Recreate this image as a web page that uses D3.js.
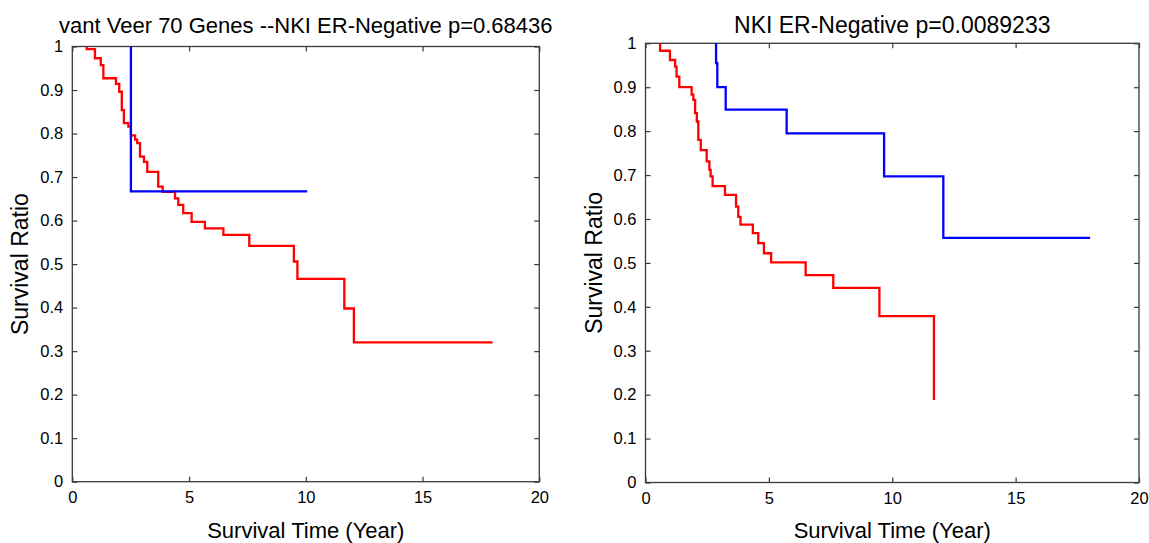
<!DOCTYPE html>
<html>
<head>
<meta charset="utf-8">
<script src="https://cdn.jsdelivr.net/npm/d3@7"></script>
<style>
  html, body { margin: 0; padding: 0; background: #fff; }
  svg { display: block; font-family: "Liberation Sans", Arial, sans-serif; }
</style>
</head>
<body>
<svg id="chart" width="1149" height="543"></svg>
<script>
// axis ticks shared by both panels
const xTicks = [0, 5, 10, 15, 20]
const yTicks = [0, 0.1, 0.2, 0.3, 0.4, 0.5, 0.6, 0.7, 0.8, 0.9, 1]
const yTickLabels = ['0', '0.1', '0.2', '0.3', '0.4', '0.5', '0.6', '0.7', '0.8', '0.9', '1']

const titles = ['vant Veer 70 Genes --NKI ER-Negative p=0.68436', 'NKI ER-Negative p=0.0089233']
const xLabel = 'Survival Time (Year)'
const yLabel = 'Survival Ratio'

// left panel, red group (start point, then each drop, then end of follow-up)
const leftRedTime = [0.62, 0.62, 0.97, 1.22, 1.33, 1.87, 2.01, 2.12, 2.21, 2.40, 2.51, 2.69, 2.78, 2.90, 3.07, 3.21,
  3.68, 3.87, 4.40, 4.54, 4.75, 5.11, 5.68, 6.47, 7.58, 9.49, 9.64, 11.65, 12.06, 18.0]
const leftRedSurv = [1, 0.994, 0.973, 0.957, 0.927, 0.914, 0.896, 0.854, 0.824, 0.816, 0.796, 0.786, 0.778, 0.747, 0.735, 0.712,
  0.678, 0.666, 0.651, 0.636, 0.617, 0.597, 0.582, 0.567, 0.542, 0.506, 0.466, 0.398, 0.320, 0.320]

// left panel, blue group
const leftBlueTime = [2.51, 2.51, 10.06]
const leftBlueSurv = [1, 0.667, 0.667]

// right panel, red group
const rightRedTime = [0.59, 0.59, 0.99, 1.20, 1.26, 1.37, 1.87, 1.94, 2.01, 2.08, 2.14, 2.24, 2.48, 2.59, 2.64, 2.72,
  3.22, 3.67, 3.76, 3.85, 4.35, 4.57, 4.80, 5.09, 6.49, 7.61, 9.48, 11.69]
const rightRedSurv = [1, 0.983, 0.962, 0.947, 0.924, 0.900, 0.883, 0.871, 0.841, 0.822, 0.780, 0.757, 0.731, 0.712, 0.697, 0.675,
  0.655, 0.628, 0.605, 0.587, 0.568, 0.545, 0.522, 0.501, 0.472, 0.443, 0.379, 0.188]

// right panel, blue group
const rightBlueTime = [2.86, 2.86, 2.91, 3.25, 5.72, 9.67, 12.07, 18.02]
const rightBlueSurv = [1, 0.955, 0.900, 0.849, 0.795, 0.697, 0.557, 0.557]

const toPoints = (times, surv) => times.map((t, i) => [t, surv[i]])

const panels = [
  {
    box: { left: 72.3, right: 539.3, top: 46.5, bottom: 481.7 },
    title: titles[0], titleSize: 22,
    series: [
      { pts: toPoints(leftRedTime, leftRedSurv), color: '#ff0000' },
      { pts: toPoints(leftBlueTime, leftBlueSurv), color: '#0000ff' }
    ]
  },
  {
    box: { left: 645.5, right: 1139, top: 43.3, bottom: 482.5 },
    title: titles[1], titleSize: 23,
    series: [
      { pts: toPoints(rightRedTime, rightRedSurv), color: '#ff0000' },
      { pts: toPoints(rightBlueTime, rightBlueSurv), color: '#0000ff' }
    ]
  }
]

const svg = d3.select('#chart')

const drawPanel = (p) => {
  const b = p.box
  const x = d3.scaleLinear().domain([0, 20]).range([b.left, b.right])
  const y = d3.scaleLinear().domain([0, 1]).range([b.bottom, b.top])
  const g = svg.append('g')
  const tickLen = 5
  const cx = (b.left + b.right) / 2

  // frame
  g.append('rect')
    .attr('x', b.left).attr('y', b.top)
    .attr('width', b.right - b.left).attr('height', b.bottom - b.top)
    .attr('fill', '#fff')
    .attr('stroke', '#3a3a3a')
    .attr('stroke-width', 1.3)

  // inward ticks, matlab style on all four sides
  const bottomAxis = d3.axisBottom(x).tickValues(xTicks).tickSizeInner(-tickLen).tickSizeOuter(0).tickPadding(10)
  const topAxis = d3.axisTop(x).tickValues(xTicks).tickSizeInner(-tickLen).tickSizeOuter(0).tickFormat('')
  const leftAxis = d3.axisLeft(y).tickValues(yTicks).tickSizeInner(-tickLen).tickSizeOuter(0).tickPadding(9)
    .tickFormat((d, i) => yTickLabels[i])
  const rightAxis = d3.axisRight(y).tickValues(yTicks).tickSizeInner(-tickLen).tickSizeOuter(0).tickFormat('')

  const axes = [
    g.append('g').attr('transform', `translate(0,${b.bottom})`).call(bottomAxis),
    g.append('g').attr('transform', `translate(0,${b.top})`).call(topAxis),
    g.append('g').attr('transform', `translate(${b.left},0)`).call(leftAxis),
    g.append('g').attr('transform', `translate(${b.right},0)`).call(rightAxis)
  ]
  axes.forEach(a => {
    a.select('.domain').remove()
    a.selectAll('.tick line').attr('stroke', '#3a3a3a').attr('stroke-width', 1.2)
    a.selectAll('.tick text')
      .attr('fill', '#000')
      .style('font-size', '16.5px')
      .style('font-family', '"Liberation Sans", Arial, sans-serif')
  })

  // survival curves
  const line = d3.line()
    .x(d => x(d[0]))
    .y(d => y(d[1]))
    .curve(d3.curveStepAfter)

  p.series.forEach(s => {
    g.append('path')
      .attr('d', line(s.pts))
      .attr('fill', 'none')
      .attr('stroke', s.color)
      .attr('stroke-width', 2.3)
  })

  g.append('text')
    .attr('x', cx).attr('y', 33)
    .attr('text-anchor', 'middle')
    .style('font-size', p.titleSize + 'px')
    .attr('fill', '#000')
    .text(p.title)

  g.append('text')
    .attr('x', cx).attr('y', 538)
    .attr('text-anchor', 'middle')
    .style('font-size', '22px')
    .attr('fill', '#000')
    .text(xLabel)

  const ly = (b.top + b.bottom) / 2
  const lx = b.left - 44
  g.append('text')
    .attr('transform', `translate(${lx},${ly}) rotate(-90)`)
    .attr('text-anchor', 'middle')
    .style('font-size', '23px')
    .attr('fill', '#000')
    .text(yLabel)
}

panels.forEach(drawPanel)
</script>
</body>
</html>
